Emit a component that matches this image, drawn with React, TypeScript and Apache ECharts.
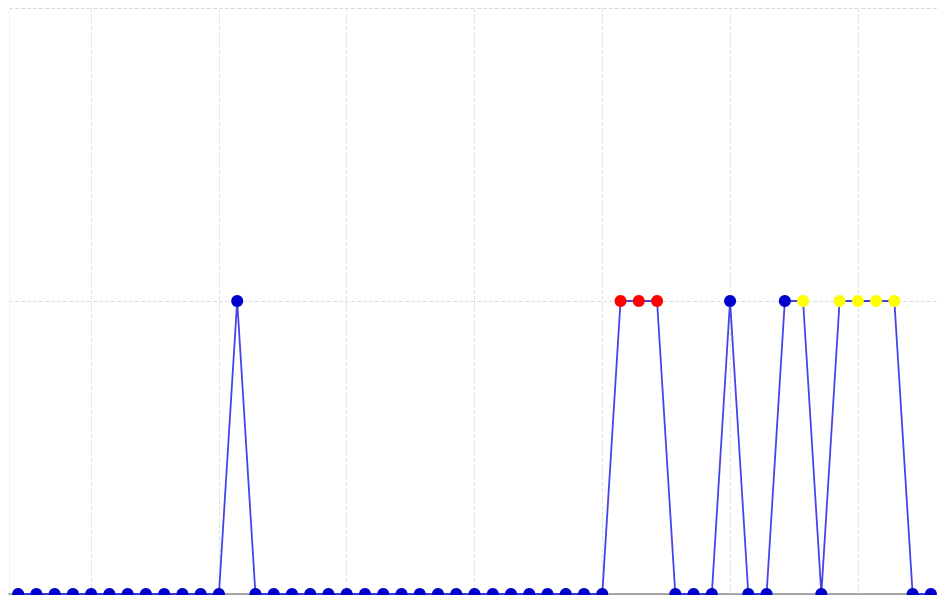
import React, { useEffect, useRef } from "react";
import * as echarts from "echarts";

const categories: string[] = Array.from({ length: 51 }, (_, i) => String(i));
const values: number[] = [
  0, 0, 0, 0, 0, 0, 0, 0, 0, 0, 0, 0, 1, 0, 0, 0, 0, 0, 0, 0,
  0, 0, 0, 0, 0, 0, 0, 0, 0, 0, 0, 0, 0, 1, 1, 1, 0, 0, 0, 1,
  0, 0, 1, 1, 0, 1, 1, 1, 1, 0, 0,
];
// point kinds: b = blue, r = red, y = yellow
const kinds: string[] = [
  "b", "b", "b", "b", "b", "b", "b", "b", "b", "b", "b", "b", "b", "b", "b", "b", "b", "b", "b", "b",
  "b", "b", "b", "b", "b", "b", "b", "b", "b", "b", "b", "b", "b", "r", "r", "r", "b", "b", "b", "b",
  "b", "b", "b", "y", "b", "y", "y", "y", "y", "b", "b",
];
const yTicks: number[] = [0, 1, 2];
const xGridIndices: number[] = [4, 11, 18, 25, 32, 39, 46];

const kindColor: Record<string, string> = { b: "#0000cc", r: "#ff0000", y: "#ffff00" };

export default function App() {
  const ref = useRef<HTMLDivElement>(null);
  useEffect(() => {
    if (!ref.current) return;
    const chart = echarts.init(ref.current, undefined, { renderer: "svg" });
    chart.setOption({
      animation: false,
      backgroundColor: "#ffffff",
      grid: { left: 9, right: 0, top: 8, bottom: 5, containLabel: false },
      xAxis: {
        type: "category",
        data: categories,
        boundaryGap: true,
        axisLine: { show: true, lineStyle: { color: "#8a8a8a", width: 1.5 } },
        axisTick: { show: false },
        axisLabel: { show: false },
        splitLine: { show: false },
      },
      yAxis: {
        type: "value",
        min: yTicks[0],
        max: yTicks[yTicks.length - 1],
        interval: 1,
        axisLine: { show: true, lineStyle: { color: "#f0f0f0" } },
        axisTick: { show: false },
        axisLabel: { show: false },
        splitLine: { show: true, lineStyle: { color: "#dcdcdc", type: "dashed", width: 1 } },
      },
      series: [
        {
          type: "line",
          data: values.map((v, i) => ({ value: v, itemStyle: { color: kindColor[kinds[i]] } })),
          symbol: "circle",
          symbolSize: 12,
          showAllSymbol: true,
          lineStyle: { color: "#2323e6", width: 1.8, opacity: 0.85 },
          itemStyle: { color: "#0000cc", borderWidth: 0 },
          z: 3,
          markLine: {
            z: 1,
            silent: true,
            symbol: ["none", "none"],
            label: { show: false },
            lineStyle: { color: "#e2e2e2", type: "dashed", width: 1 },
            data: xGridIndices.map((i) => ({ xAxis: i })),
          },
        },
      ],
      graphic: [
        {
          type: "rect",
          left: 0,
          top: 595,
          shape: { width: 940, height: 10 },
          style: { fill: "#ffffff" },
          z: 100,
          silent: true,
        },
      ],
    });
    return () => chart.dispose();
  }, []);
  return (
    <div
      ref={ref}
      style={{ position: "fixed", left: 0, top: 0, width: 940, height: 599 }}
    />
  );
}
